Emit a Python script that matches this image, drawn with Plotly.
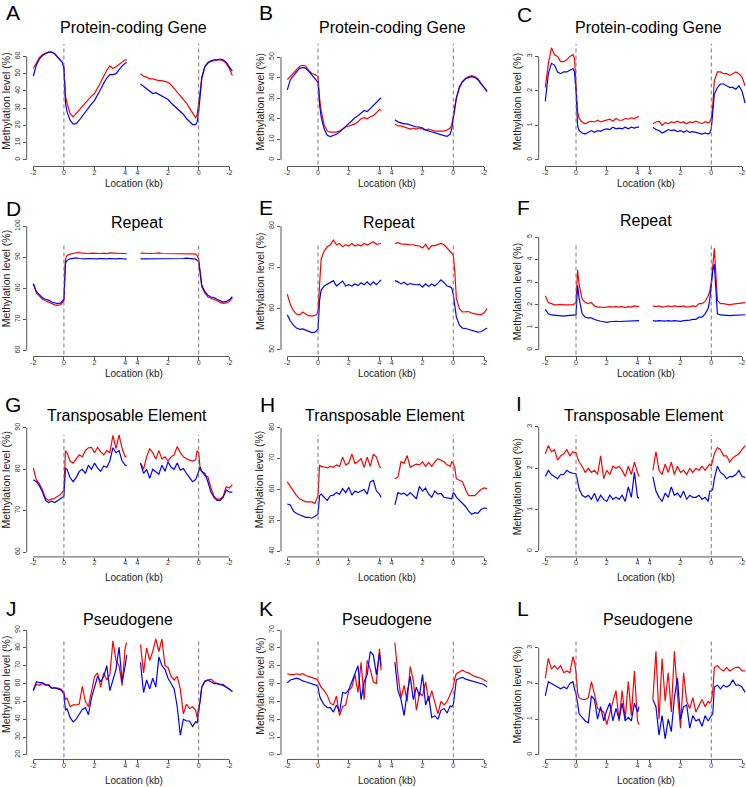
import plotly.graph_objects as go

W, H = 746, 787
FONT = "Liberation Sans, Arial, sans-serif"

# ---------------- data (kb positions) ----------------
KB_LEFT = [-2.0, -1.8, -1.6, -1.4, -1.2, -1.0, -0.8, -0.6, -0.4, -0.2, -0.1, 0.0, 0.1, 0.2, 0.4, 0.6, 0.8,
           1.0, 1.2, 1.4, 1.6, 1.8, 2.0, 2.2, 2.4, 2.6, 2.8, 3.0, 3.2, 3.4, 3.6, 3.8, 4.0, 4.1]
KB_RIGHT = [3.8, 3.6, 3.4, 3.2, 3.0, 2.8, 2.6, 2.4, 2.2, 2.0, 1.8, 1.6, 1.4, 1.2, 1.0, 0.8, 0.6, 0.4, 0.2,
            0.1, 0.0, -0.1, -0.2, -0.4, -0.6, -0.8, -1.0, -1.2, -1.4, -1.6, -1.8, -2.0, -2.2]
X_TICK_TEXT = ["-2", "0", "2", "4", "4", "2", "0", "-2"]
X_TICK_KB_LEFT = [-2, 0, 2, 4]
X_TICK_KB_RIGHT = [4, 2, 0, -2]

# Panel A
A_RED_L = [53, 56.5, 59.5, 61, 62, 62.5, 62.5, 61.5, 59.5, 57.5, 56.5, 54, 37, 33, 27, 25, 27, 29.5, 31.5, 33.5,
           35.5, 37, 38.5, 41.5, 45, 48.5, 52, 54.5, 53, 54, 55.5, 57, 58, 58]
A_BLUE_L = [48.5, 55, 58.5, 60.5, 61.5, 62.5, 62.5, 61.5, 59.5, 57.5, 56.5, 53, 33, 28, 23, 20.8, 21, 23, 25.5,
            28, 30.5, 32.5, 34.5, 37.5, 41, 44.5, 47.5, 49.5, 49.5, 50, 52.5, 54.5, 56, 56.5]
A_RED_R = [50, 48.5, 48, 47, 47, 46.5, 46, 46, 45.5, 45, 43.5, 41.5, 39.5, 37.5, 35.5, 33, 30, 27, 24.5, 26, 32,
           40, 48, 54, 56, 57, 57.5, 58, 58, 57.5, 56, 53, 49]
A_BLUE_R = [44, 42.5, 41.5, 39.5, 38.5, 39, 38, 37, 36, 35, 33, 31.5, 29.5, 28, 26.5, 24, 22.5, 20.5, 20.5, 22,
            28, 38, 47, 54, 56.5, 57.5, 58, 58, 58.5, 58, 56.5, 54, 51.5]
# Panel B
B_RED_L = [39, 40.5, 42.5, 44, 45.5, 46, 45.5, 43.5, 42, 41.5, 41, 40.5, 30, 24, 17, 14, 13.5, 13.5, 13.5, 14, 15,
           16, 16.5, 17, 17.5, 18.5, 20, 20.5, 20, 21, 21.5, 23, 24.5, 24]
B_BLUE_L = [34, 39, 41, 43, 44.5, 45, 44.5, 43, 41.5, 39.5, 38.5, 37.5, 27, 21, 15, 12, 11.3, 11.8, 12.5, 13.5, 15,
            16.5, 18, 19, 20.5, 21.5, 23, 24, 23.5, 25, 26.5, 28, 29.5, 30.2]
B_RED_R = [17.5, 16.5, 16.5, 16, 15.5, 15, 15.5, 15, 15.5, 15, 14.5, 15, 14.5, 14, 14, 14, 14, 14.5, 15.5, 17, 21,
           25, 30, 35, 38, 39.5, 40.5, 41, 40.5, 39.5, 37.5, 35, 33]
B_BLUE_R = [19.5, 18.5, 18, 17.5, 17.5, 17, 16.5, 16, 16, 15.5, 14.5, 14, 13.5, 13, 12.5, 12, 11.8, 11.5, 12.5, 15,
            20, 25, 30, 35.5, 38, 39.5, 40, 40.5, 40, 39, 37, 35, 33.5]
# Panel C
C_RED_L = [2.1, 2.8, 3.25, 3.05, 3.0, 2.85, 2.85, 2.9, 3.0, 3.05, 2.95, 2.3, 1.4, 1.2, 1.1, 1.05, 1.1, 1.12, 1.1,
           1.15, 1.1, 1.13, 1.15, 1.18, 1.12, 1.2, 1.15, 1.15, 1.2, 1.18, 1.22, 1.2, 1.25, 1.25]
C_BLUE_L = [1.7, 2.5, 2.8, 2.75, 2.55, 2.5, 2.55, 2.55, 2.6, 2.65, 2.55, 2.0, 1.0, 0.85, 0.78, 0.75, 0.8, 0.85, 0.8,
            0.85, 0.83, 0.88, 0.9, 0.88, 0.95, 0.9, 0.92, 0.9, 0.95, 0.9, 0.95, 0.92, 0.95, 0.95]
C_RED_R = [1.05, 1.1, 1.12, 1.0, 1.08, 1.05, 1.1, 1.08, 1.12, 1.08, 1.1, 1.05, 1.1, 1.08, 1.12, 1.08, 1.05, 1.1, 1.08,
           1.1, 1.2, 1.6, 2.3, 2.55, 2.55, 2.5, 2.5, 2.45, 2.5, 2.55, 2.5, 2.4, 2.15]
C_BLUE_R = [0.95, 0.88, 0.85, 0.78, 0.82, 0.88, 0.85, 0.87, 0.82, 0.85, 0.8, 0.85, 0.8, 0.82, 0.8, 0.78, 0.75, 0.78,
            0.75, 0.78, 0.9, 1.4, 1.9, 2.1, 2.2, 2.2, 2.15, 2.1, 2.1, 2.05, 2.15, 2.0, 1.65]
# Panel D
D_RED_L = [81.5, 78.5, 77.5, 76.5, 76, 75.5, 75, 74.7, 74.5, 74.8, 75.3, 76, 89.5, 90.5, 91, 91.2, 91.3, 91.6, 91.3,
           91.2, 91.2, 91.3, 91.2, 91.3, 91.2, 91.3, 91.2, 91.4, 91.3, 91.2, 91.3, 91.2, 91.2, 91.2]
D_BLUE_L = [81.5, 79, 78, 77, 76.5, 76.2, 75.6, 75.3, 75.1, 75.3, 75.8, 76.5, 88, 89, 89.5, 89.6, 89.8, 89.6, 89.5,
            89.5, 89.6, 89.5, 89.5, 89.5, 89.6, 89.5, 89.5, 89.6, 89.5, 89.5, 89.6, 89.5, 89.4, 89.4]
D_RED_R = [91.3, 91.2, 91.3, 91.2, 91.2, 91.3, 91.4, 91.2, 91.2, 91.3, 91.2, 91.2, 91.1, 91.2, 91.2, 91.3, 91.2,
           91.1, 91, 90.5, 89.5, 85, 80.5, 78.5, 77.2, 76.8, 76.5, 76, 75.5, 75.2, 75.3, 75.8, 77]
D_BLUE_R = [89.5, 89.5, 89.5, 89.4, 89.5, 89.5, 89.5, 89.4, 89.5, 89.5, 89.5, 89.6, 89.6, 89.5, 89.6, 89.7, 89.6,
            89.5, 89.4, 89, 88.5, 85, 81, 79, 77.8, 77.2, 77, 76.5, 76, 75.6, 75.8, 76.3, 77.3]
# Panel E
E_RED_L = [63.5, 61, 59.5, 58.7, 58.5, 59.2, 58.7, 58.3, 58.2, 58.3, 58.5, 59.5, 67, 72, 74, 75, 75.5, 76.6, 75.5,
           75.8, 75, 75.5, 75.2, 75.8, 75.2, 75.5, 75.2, 75.8, 75.4, 75.8, 76.2, 75.6, 75.8, 75.8]
E_BLUE_L = [58.5, 57, 56, 55.3, 55, 55.1, 54.8, 54.4, 54.2, 54.3, 54.6, 55, 62, 64.5, 65.5, 66, 66.5, 66.8, 65.5, 66,
            66.7, 65.5, 65.8, 65.5, 66, 65.6, 66.3, 65.8, 66.5, 65.7, 66.5, 65.8, 66.8, 67]
E_RED_R = [75.8, 76, 75.7, 75.7, 75.6, 75.5, 75.5, 75.3, 75.2, 74.7, 75.6, 74.4, 75.3, 75.3, 75.5, 75.8, 75.5, 74.8,
           74, 73.5, 73, 69, 62.5, 60, 59.2, 59.2, 59.3, 58.9, 58.7, 58.6, 58.5, 59, 60]
E_BLUE_R = [66.8, 66.5, 66, 66.4, 65.8, 66.1, 65.9, 65.8, 65.9, 65.2, 66, 65.4, 66, 65.5, 66.2, 67, 66.3, 65.5, 65.3,
            65, 63.5, 60, 58, 56, 55.3, 55.2, 55, 54.8, 54.5, 54.3, 54.4, 54.8, 55.3]
# Panel F
F_RED_L = [2.4, 2.1, 2.05, 2.0, 2.0, 2.02, 2.0, 2.0, 2.02, 2.0, 2.05, 2.1, 3.55, 2.9, 2.25, 2.1, 2.05, 2.1, 1.95,
           1.9, 1.9, 1.88, 1.9, 1.92, 1.9, 1.92, 1.9, 1.92, 1.88, 1.92, 1.9, 1.95, 1.92, 1.95]
F_BLUE_L = [1.8, 1.6, 1.55, 1.53, 1.52, 1.52, 1.5, 1.52, 1.52, 1.52, 1.53, 1.55, 2.85, 2.3, 1.6, 1.45, 1.42, 1.42,
            1.35, 1.3, 1.27, 1.25, 1.22, 1.25, 1.27, 1.27, 1.26, 1.27, 1.28, 1.27, 1.3, 1.28, 1.3, 1.3]
F_RED_R = [1.95, 1.92, 1.95, 1.9, 1.92, 1.95, 1.92, 1.95, 1.93, 1.92, 1.95, 1.9, 1.92, 1.95, 1.92, 2.05, 2.05, 2.15,
           2.4, 2.6, 3.0, 3.8, 4.5, 2.2, 2.05, 2.05, 2.02, 2.0, 2.03, 2.05, 2.05, 2.08, 2.1]
F_BLUE_R = [1.3, 1.28, 1.3, 1.28, 1.28, 1.3, 1.28, 1.3, 1.28, 1.27, 1.3, 1.3, 1.32, 1.35, 1.35, 1.45, 1.45, 1.6,
            1.85, 2.2, 2.8, 3.5, 3.8, 1.6, 1.55, 1.53, 1.52, 1.52, 1.53, 1.53, 1.55, 1.55, 1.56]
# Panel G
G_RED_L = [80.3, 77.5, 76.5, 75, 73, 72.5, 72.8, 73, 73.5, 74, 74.5, 75, 84.5, 84, 82, 81.5, 82.5, 83.5, 83, 84.5,
           85.2, 85.3, 84, 85.3, 84.2, 83.5, 84.5, 84, 88.2, 85, 88.3, 85, 83, 83.3]
G_BLUE_L = [77.5, 77, 76, 74.5, 72.5, 72, 72.3, 72, 72.5, 73, 73.3, 73.5, 80.3, 80, 78, 77, 78, 79.5, 80, 79, 81,
            80, 81.5, 80.3, 79.5, 80.8, 80.5, 82, 85.2, 84, 84.5, 82, 81, 80.8]
G_RED_R = [81.5, 80, 83, 85, 84, 82.5, 84.5, 82.5, 83, 82, 83, 83.5, 85.5, 84, 83, 82.5, 82.2, 82, 82.3, 84.5, 84,
           80, 79.5, 78.5, 78.2, 75.5, 73.5, 72.8, 72.8, 73.5, 75.8, 75.5, 76.3]
G_BLUE_R = [81.5, 79, 80, 77.8, 80, 79.5, 78.8, 81, 79.5, 81.8, 80.5, 80, 81.5, 79.8, 80.2, 79, 78, 77, 77.5, 78.5,
            80, 80.5, 79.5, 79, 77, 74.5, 73.2, 72.5, 72.5, 73.2, 75, 74.5, 74.5]
# Panel H
H_RED_L = [62.5, 61, 59.5, 58, 57, 56.5, 56, 56, 56, 55.5, 57, 58, 68, 67.5, 67.3, 67, 67.5, 67.2, 68, 67.5, 70.5,
           68, 68.5, 71.5, 68.5, 69, 70, 67.2, 70.5, 67.5, 71.5, 70.5, 67.5, 67]
H_BLUE_L = [55.3, 55, 53, 52.2, 51.8, 51.3, 51, 51, 50.7, 51.3, 51.7, 52, 58, 58.5, 57.5, 56.5, 58, 58.2, 59, 58.5,
            60.3, 59, 60.7, 58.2, 59.5, 59, 59.5, 60, 58.5, 62.5, 63, 59.5, 58.5, 57.5]
H_RED_R = [63.5, 64, 69, 68.5, 71, 67.2, 67.8, 68.2, 68, 69, 67.5, 68.8, 67.5, 69, 70, 69.5, 69, 68, 67.5, 69, 68.5,
           67, 63.5, 63, 62.5, 60, 58, 58, 58, 59, 60, 60.5, 60.3]
H_BLUE_R = [55, 59, 58.5, 58.8, 58, 59, 58, 57, 61, 59.5, 60.5, 58.5, 57.5, 59.5, 58.5, 58.7, 57.5, 57.3, 57, 57, 59,
            58.5, 57.5, 56.5, 55.5, 54.5, 53, 52, 52.5, 52.3, 53.5, 54, 53.8]
# Panel I
I_RED_L = [2.35, 2.55, 2.4, 2.45, 2.2, 2.3, 2.35, 2.45, 2.3, 2.4, 2.38, 2.38, 2.25, 2.15, 2.05, 1.9, 2.0, 1.9, 1.95,
           1.85, 2.3, 1.75, 1.95, 1.85, 2.05, 2.0, 2.05, 1.95, 1.8, 2.05, 1.85, 2.15, 1.9, 1.8]
I_BLUE_L = [1.8, 1.95, 1.85, 1.8, 1.75, 1.85, 1.85, 1.95, 1.9, 1.88, 1.88, 1.87, 1.7, 1.5, 1.35, 1.3, 1.35, 1.25,
            1.4, 1.2, 1.35, 1.25, 1.2, 1.35, 1.25, 1.3, 1.25, 1.35, 1.2, 1.55, 1.3, 1.9, 1.3, 1.28]
I_RED_R = [1.95, 2.4, 1.95, 1.85, 2.1, 1.9, 2.15, 1.85, 2.05, 1.9, 1.95, 1.85, 2.0, 1.9, 2.0, 1.95, 2.05, 1.95, 2.05,
           2.1, 2.05, 2.2, 2.35, 2.5, 2.45, 2.3, 2.3, 2.15, 2.25, 2.3, 2.35, 2.45, 2.55]
I_BLUE_R = [1.8, 1.45, 1.3, 1.2, 1.4, 1.3, 1.55, 1.35, 1.4, 1.3, 1.45, 1.25, 1.35, 1.3, 1.3, 1.35, 1.25, 1.3, 1.2,
            1.45, 1.45, 1.5, 1.75, 2.05, 1.9, 1.85, 1.75, 1.8, 1.8, 1.85, 1.95, 1.8, 1.78]
# Panel J
J_RED_L = [56.5, 59.5, 59, 60, 59, 59.5, 57.5, 57.8, 57.5, 57, 56, 55, 51, 52, 47, 48, 48, 48.5, 58.5, 50, 47, 55,
           64, 66, 58, 66, 62, 65, 84, 73, 70, 59, 80, 83]
J_BLUE_L = [56, 61, 60.5, 60.5, 59.5, 59, 57.5, 57.5, 57, 56.5, 55.5, 54, 45, 46, 41, 38.5, 40, 43, 45.5, 46.5, 42.5,
            52, 58, 64, 61, 64, 70, 56, 62, 68, 80.5, 61, 70, 76]
J_RED_R = [82, 66, 80, 73, 78, 85, 78, 85, 70, 69, 64, 62, 64, 57, 43, 48.5, 46, 47, 45, 41, 47, 50, 58, 61.5, 62,
           62.5, 61, 60, 59.5, 59.5, 58, 56.5, 55.5]
J_BLUE_R = [72, 55, 62, 57, 63, 58, 75, 70, 68, 63, 60, 57, 47, 31, 40, 39, 39, 36, 38.5, 38, 44, 52, 58, 61, 62, 61,
            60, 60, 59.5, 59, 58, 57, 55.5]
# Panel K
K_RED_L = [45.5, 45, 45, 45.5, 45, 45.5, 44.5, 44, 43.5, 43, 42.5, 41.5, 40, 38, 36, 33.5, 29, 28, 33, 22, 27, 28,
           36, 38, 45, 35, 52, 31, 53, 48, 41, 40, 59.5, 47.5]
K_BLUE_L = [40.5, 42, 42.5, 43, 42.5, 41.5, 41, 40.5, 40, 39.5, 39, 38, 33, 31, 28, 26.5, 26.5, 24, 28, 24, 35, 34.5,
            36.5, 41, 45, 50, 31, 41, 45, 58, 56, 45, 57, 50]
K_RED_R = [63, 45, 32, 39, 30, 49.5, 42, 25, 35, 33, 41, 30, 36, 30, 23, 30, 28, 30, 34, 36, 38, 43, 45.5, 46.5, 47.5,
           46.5, 46, 45, 44, 43.5, 43, 42, 41]
K_BLUE_R = [52, 36, 31, 22, 35, 44, 31, 38, 33, 45, 28, 33, 21, 22, 20, 25, 26, 23.5, 27.5, 27, 28, 36, 42, 43, 43.5,
            42.5, 42, 41.5, 41, 40.5, 40, 39.5, 38]
# Panel L
L_RED_L = [2.15, 2.7, 2.4, 2.5, 2.4, 2.5, 2.3, 2.35, 2.3, 2.75, 2.6, 2.3, 1.75, 1.6, 1.55, 1.55, 1.6, 2.05, 1.7, 1.3,
           1.25, 1.2, 0.85, 1.2, 1.5, 1.8, 0.95, 1.8, 1.0, 2.05, 1.1, 2.35, 0.95, 0.85]
L_BLUE_L = [1.65, 2.05, 2.0, 1.95, 1.9, 1.85, 1.9, 1.85, 2.0, 2.05, 1.85, 1.7, 1.45, 1.15, 1.05, 0.95, 0.9, 1.65,
            1.55, 1.0, 1.35, 0.95, 1.25, 1.45, 0.95, 1.3, 1.0, 1.45, 0.95, 1.05, 0.95, 1.45, 1.2, 1.35]
L_RED_R = [1.55, 2.9, 1.0, 2.7, 1.5, 2.3, 1.2, 2.9, 1.7, 0.75, 2.3, 1.5, 1.3, 1.6, 1.2, 1.4, 1.55, 1.35, 1.5, 1.45,
           1.5, 1.8, 2.45, 2.5, 2.4, 2.35, 2.45, 2.35, 2.4, 2.45, 2.45, 2.35, 2.35]
L_BLUE_R = [1.55, 1.35, 0.55, 1.1, 0.45, 1.0, 0.65, 1.6, 2.15, 1.0, 1.35, 1.4, 0.75, 1.1, 0.95, 1.0, 0.8, 1.1, 0.95,
            1.05, 1.1, 1.15, 1.9, 1.95, 1.85, 1.95, 1.9, 1.95, 2.1, 1.95, 1.95, 1.9, 1.75]

LETTERS = ["A", "B", "C", "D", "E", "F", "G", "H", "I", "J", "K", "L"]
TITLES = ["Protein-coding Gene"] * 3 + ["Repeat"] * 3 + ["Transposable Element"] * 3 + ["Pseudogene"] * 3
Y_TICK_FIRST = [0, 0, 0, 60, 50, 0, 60, 40, 0, 20, 0, 0]
Y_TICK_LAST = [60, 50, 3, 100, 80, 5, 90, 80, 3, 90, 70, 3]
Y_TICK_STEP = [10, 10, 1, 10, 10, 1, 10, 10, 1, 10, 10, 1]
SERIES = {
    "A": (A_RED_L, A_BLUE_L, A_RED_R, A_BLUE_R), "B": (B_RED_L, B_BLUE_L, B_RED_R, B_BLUE_R),
    "C": (C_RED_L, C_BLUE_L, C_RED_R, C_BLUE_R), "D": (D_RED_L, D_BLUE_L, D_RED_R, D_BLUE_R),
    "E": (E_RED_L, E_BLUE_L, E_RED_R, E_BLUE_R), "F": (F_RED_L, F_BLUE_L, F_RED_R, F_BLUE_R),
    "G": (G_RED_L, G_BLUE_L, G_RED_R, G_BLUE_R), "H": (H_RED_L, H_BLUE_L, H_RED_R, H_BLUE_R),
    "I": (I_RED_L, I_BLUE_L, I_RED_R, I_BLUE_R), "J": (J_RED_L, J_BLUE_L, J_RED_R, J_BLUE_R),
    "K": (K_RED_L, K_BLUE_L, K_RED_R, K_BLUE_R), "L": (L_RED_L, L_BLUE_L, L_RED_R, L_BLUE_R),
}

# ---------------- layout geometry (pixels) ----------------
GAP_START = 4.8  # axis position of the right-hand "4" tick


def right_pos(kb):
    return GAP_START + (4 - kb)


COL_TICK_L = [33.3, 287.3, 545.3]
COL_TICK_R = [229.3, 484.0, 742.0]
COL_YAXIS = [26.7, 281.0, 538.7]
ROW_AXIS = [163.3, 354.3, 555.7, 759.3]
ROW_DASH_TOP = [40, 240, 433, 637.7]
ROW_XTITLE = [180, 371.7, 576.7, 780.3]
YTICK_PX = [(156.7, 52.7), (156.7, 53.3), (156.7, 52.7), (348.3, 223.3), (347.7, 223.3), (347.7, 234.3),
            (551, 426), (550, 426), (550, 425), (754.7, 629.3), (754.7, 629.3), (754.7, 647)]
TITLE_POS = [(133.3, 24), (392, 24), (648, 24), (136.7, 220), (388.7, 220), (646.3, 218),
             (126.7, 414), (385.5, 414), (644.3, 414), (127.8, 618.7), (387.2, 618.7), (648.2, 618.7)]
LETTER_POS = [(12.5, 9), (266, 9), (524.3, 10.5), (13, 205.3), (266, 205), (523.5, 205),
              (13.3, 402.5), (267.2, 402.5), (519.3, 401.7), (11, 607.8), (266.3, 607.8), (522.7, 607.8)]
YTITLE_POS = [(6, 98.3), (259.7, 98.3), (516.5, 98.3), (6, 276.7), (259.3, 279), (516.8, 289),
              (6, 479), (259.3, 478.3), (516.8, 485), (6, 684.5), (259.3, 686), (516.5, 694.5)]
XTITLE_X = [134.3, 387.3, 646]

RED, BLUE = "#FF0000", "#0000FF"
AXIS_COLOR = "#555555"


def fx(p):
    return p / W


def fy(p):
    return 1 - p / H


fig = go.Figure()
layout = dict(width=W, height=H, margin=dict(l=0, r=0, t=0, b=0), paper_bgcolor="white",
              plot_bgcolor="rgba(0,0,0,0)", showlegend=False, shapes=[], annotations=[])

for i, letter in enumerate(LETTERS):
    n = i + 1
    col, row = i % 3, i // 3
    xs = "x" if n == 1 else f"x{n}"
    ys = "y" if n == 1 else f"y{n}"
    xa = "xaxis" if n == 1 else f"xaxis{n}"
    ya = "yaxis" if n == 1 else f"yaxis{n}"

    # x axis geometry
    pl, pr = COL_TICK_L[col], COL_TICK_R[col]
    xk = (pr - pl) / (right_pos(-2) - (-2))
    dom_l = COL_YAXIS[col]
    dom_r = min(pr + (pl - dom_l), W)
    xr = [-2 - (pl - dom_l) / xk, right_pos(-2) + (dom_r - pr) / xk]

    # y axis geometry
    v0, v1 = Y_TICK_FIRST[i], Y_TICK_LAST[i]
    p0, p1 = YTICK_PX[i]
    yk = (p0 - p1) / (v1 - v0)
    bottom = ROW_AXIS[row]
    top = min(ROW_DASH_TOP[row], p1) - 3
    yr = [v0 - (bottom - p0) / yk, v1 + (p1 - top) / yk]

    tickvals = X_TICK_KB_LEFT + [right_pos(k) for k in X_TICK_KB_RIGHT]
    yticks = []
    v = v0
    while v <= v1 + 1e-9:
        yticks.append(v)
        v += Y_TICK_STEP[i]

    layout[xa] = dict(domain=[fx(dom_l), fx(dom_r)], range=xr, anchor=ys, showgrid=False, zeroline=False,
                      showline=False, ticks="outside", ticklen=3, tickwidth=1, tickcolor=AXIS_COLOR,
                      tickvals=tickvals, ticktext=X_TICK_TEXT, ticklabelstandoff=-4, fixedrange=True,
                      tickfont=dict(family=FONT, size=7, color="#333333"))
    layout[ya] = dict(domain=[fy(bottom), fy(top)], range=yr, anchor=xs, showgrid=False, zeroline=False,
                      showline=False, ticks="outside", ticklen=3, tickwidth=1, tickcolor=AXIS_COLOR,
                      tickvals=yticks, ticktext=[f"{t:g}" for t in yticks], tickangle=-90, fixedrange=True,
                      tickfont=dict(family=FONT, size=7, color="#333333"))

    red_l, blue_l, red_r, blue_r = SERIES[letter]
    xline = KB_LEFT + [None] + [right_pos(k) for k in KB_RIGHT]
    for vals_l, vals_r, color in ((red_l, red_r, RED), (blue_l, blue_r, BLUE)):
        fig.add_trace(go.Scatter(x=xline, y=list(vals_l) + [None] + list(vals_r), mode="lines",
                                 line=dict(color=color, width=1.2), xaxis=xs, yaxis=ys,
                                 connectgaps=False, hoverinfo="skip"))

    # axis lines (R style: from first to last tick)
    layout["shapes"].append(dict(type="line", xref=xs, yref=f"{ys} domain", x0=-2, x1=right_pos(-2), y0=0, y1=0,
                                 line=dict(color=AXIS_COLOR, width=1)))
    layout["shapes"].append(dict(type="line", xref=f"{xs} domain", yref=ys, x0=0, x1=0, y0=v0, y1=v1,
                                 line=dict(color=AXIS_COLOR, width=1)))
    # dashed boundary lines at TSS / TTS
    for xv in (0, right_pos(0)):
        layout["shapes"].append(dict(type="line", xref=xs, yref="paper", x0=xv, x1=xv,
                                     y0=fy(bottom - 2), y1=fy(ROW_DASH_TOP[row]),
                                     line=dict(color="#777777", width=1, dash="4px,3px")))

    tx, ty = TITLE_POS[i]
    layout["annotations"].append(dict(text=TITLES[i], x=fx(tx), y=fy(ty), xref="paper", yref="paper",
                                      showarrow=False, xanchor="center", yanchor="middle",
                                      font=dict(family=FONT, size=16, color="black")))
    lx, ly = LETTER_POS[i]
    layout["annotations"].append(dict(text=letter, x=fx(lx), y=fy(ly), xref="paper", yref="paper",
                                      showarrow=False, xanchor="center", yanchor="middle",
                                      font=dict(family=FONT, size=21, color="black")))
    yx, yy = YTITLE_POS[i]
    layout["annotations"].append(dict(text="Methylation level (%)", x=fx(yx), y=fy(yy), xref="paper",
                                      yref="paper", showarrow=False, xanchor="center", yanchor="middle",
                                      textangle=-90, font=dict(family=FONT, size=10.5, color="#222222")))
    layout["annotations"].append(dict(text="Location (kb)", x=fx(XTITLE_X[col]), y=fy(ROW_XTITLE[row]),
                                      xref="paper", yref="paper", showarrow=False, xanchor="center",
                                      yanchor="middle", font=dict(family=FONT, size=10, color="#222222")))

fig.update_layout(**layout)
fig.write_html("out.html", config={"displayModeBar": False, "staticPlot": True},
               post_script="document.body.style.margin='0';document.body.style.padding='0';")
